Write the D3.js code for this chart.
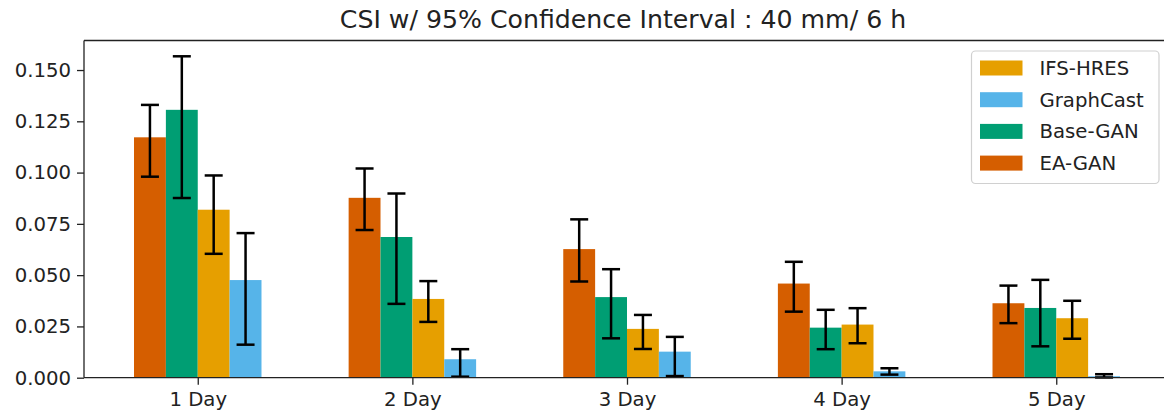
<!DOCTYPE html>
<html>
<head>
<meta charset="utf-8">
<script src="https://cdn.jsdelivr.net/npm/d3@7"></script>
<style>
  html, body { margin: 0; padding: 0; background: #fff; }
  svg { display: block; font-family: "DejaVu Sans", sans-serif; }
</style>
</head>
<body>
<svg id="chart" width="1164" height="416"></svg>
<script>
// Lead times on the x axis
const categories = ["1 Day", "2 Day", "3 Day", "4 Day", "5 Day"];

// Models, in the order the bars are drawn inside each group
const models = ["EA-GAN", "Base-GAN", "IFS-HRES", "GraphCast"];
// Legend order
const legendOrder = ["IFS-HRES", "GraphCast", "Base-GAN", "EA-GAN"];

// CSI per lead time
const eaGan     = [0.1172, 0.0877, 0.0627, 0.0459, 0.0363];
const baseGan   = [0.1306, 0.0686, 0.0393, 0.0244, 0.0340];
const ifsHres   = [0.0819, 0.0384, 0.0238, 0.0259, 0.0290];
const graphCast = [0.0476, 0.0090, 0.0127, 0.0031, 0.0007];

// 95% confidence interval bounds (lower / upper)
const eaGanLo     = [0.0980, 0.0720, 0.0469, 0.0322, 0.0266];
const eaGanHi     = [0.1330, 0.1020, 0.0772, 0.0565, 0.0449];
const baseGanLo   = [0.0876, 0.0360, 0.0192, 0.0139, 0.0153];
const baseGanHi   = [0.1567, 0.0898, 0.0529, 0.0331, 0.0477];
const ifsHresLo   = [0.0604, 0.0272, 0.0140, 0.0168, 0.0190];
const ifsHresHi   = [0.0986, 0.0471, 0.0306, 0.0339, 0.0375];
const graphCastLo = [0.0161, 0.0005, 0.0008, 0.0015, 0.0001];
const graphCastHi = [0.0705, 0.0139, 0.0199, 0.0046, 0.0017];

const yTicks = [0, 0.025, 0.05, 0.075, 0.1, 0.125, 0.15];

const colors = {
  "EA-GAN": "#D55E00",
  "Base-GAN": "#009E73",
  "IFS-HRES": "#E69F00",
  "GraphCast": "#56B4E9"
};

const series = {
  "EA-GAN":    { v: eaGan,     lo: eaGanLo,     hi: eaGanHi },
  "Base-GAN":  { v: baseGan,   lo: baseGanLo,   hi: baseGanHi },
  "IFS-HRES":  { v: ifsHres,   lo: ifsHresLo,   hi: ifsHresHi },
  "GraphCast": { v: graphCast, lo: graphCastLo, hi: graphCastHi }
};

const svg = d3.select("#chart");
const plotLeft = 84, plotRight = 1170, plotTop = 40.5, plotBottom = 377.7;
const barW = 0.1485; // bar width in category units

const x = d3.scaleLinear().domain([-0.53, 4.53]).range([plotLeft, plotRight]);
const y = d3.scaleLinear().domain([0, 0.1644]).range([plotBottom, plotTop]);

// Bars
const rows = [];
models.forEach((m, mi) => {
  categories.forEach((c, ci) => {
    const x0 = ci + (mi - 2) * barW;
    rows.push({ m, ci, x0, v: series[m].v[ci], lo: series[m].lo[ci], hi: series[m].hi[ci] });
  });
});

svg.append("g").selectAll("rect").data(rows).join("rect")
  .attr("x", d => x(d.x0))
  .attr("width", d => x(d.x0 + barW) - x(d.x0))
  .attr("y", d => y(d.v))
  .attr("height", d => y(0) - y(d.v))
  .attr("fill", d => colors[d.m]);

// Error bars
const eg = svg.append("g").attr("stroke", "#000").attr("stroke-width", 2.5).attr("fill", "none");
rows.forEach(d => {
  const cx = x(d.x0 + barW / 2);
  eg.append("line").attr("x1", cx).attr("x2", cx).attr("y1", y(d.lo)).attr("y2", y(d.hi));
  eg.append("line").attr("x1", cx - 9).attr("x2", cx + 9).attr("y1", y(d.lo)).attr("y2", y(d.lo));
  eg.append("line").attr("x1", cx - 9).attr("x2", cx + 9).attr("y1", y(d.hi)).attr("y2", y(d.hi));
});

// Axes
const fs = 19.7;
const yAxis = svg.append("g").attr("transform", `translate(${plotLeft},0)`)
  .call(d3.axisLeft(y).tickValues(yTicks).tickFormat(d3.format(".3f")).tickSize(7).tickPadding(6));
const xAxis = svg.append("g").attr("transform", `translate(0,${plotBottom})`)
  .call(d3.axisBottom(x).tickValues(d3.range(categories.length)).tickFormat(i => categories[i]).tickSize(7).tickPadding(7));

[yAxis, xAxis].forEach(a => {
  a.select(".domain").remove();
  a.selectAll(".tick line").attr("stroke", "#222").attr("stroke-width", 1.3);
  a.selectAll(".tick text").attr("fill", "#222").style("font-size", fs + "px").style("font-family", "DejaVu Sans");
});

// Spines
const sp = svg.append("g").attr("stroke", "#222").attr("stroke-width", 1.3).attr("fill", "none");
sp.append("line").attr("x1", plotLeft).attr("x2", plotLeft).attr("y1", plotTop).attr("y2", plotBottom);
sp.append("line").attr("x1", plotLeft).attr("x2", plotRight).attr("y1", plotBottom).attr("y2", plotBottom);
sp.append("line").attr("x1", plotLeft).attr("x2", plotRight).attr("y1", plotTop).attr("y2", plotTop);
sp.append("line").attr("x1", plotRight).attr("x2", plotRight).attr("y1", plotTop).attr("y2", plotBottom);

// Title
svg.append("text")
  .attr("x", 623)
  .attr("y", 28)
  .attr("text-anchor", "middle")
  .attr("fill", "#222")
  .style("font-size", "25.2px")
  .text("CSI w/ 95% Confidence Interval : 40 mm/ 6 h");

// Legend
const lg = svg.append("g");
lg.append("rect")
  .attr("x", 971.5).attr("y", 51).attr("width", 187.5).attr("height", 132.5)
  .attr("rx", 4).attr("fill", "#fff").attr("fill-opacity", 0.8)
  .attr("stroke", "#d0d0d0").attr("stroke-width", 1.2);
legendOrder.forEach((m, i) => {
  const cy = 68 + i * 31.7;
  lg.append("rect").attr("x", 980).attr("y", cy - 7.5).attr("width", 42.5).attr("height", 15)
    .attr("fill", colors[m]);
  lg.append("text").attr("x", 1039.5).attr("y", cy).attr("dy", "0.36em")
    .attr("fill", "#222").style("font-size", fs + "px").text(m);
});
</script>
</body>
</html>
